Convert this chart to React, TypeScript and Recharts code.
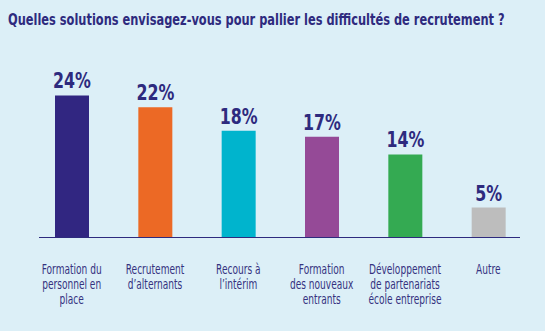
import { BarChart, Bar, XAxis, YAxis, Cell, LabelList } from "recharts";

document.body.style.margin = "0";

const CATEGORIES = [
  "Formation du personnel en place",
  "Recrutement d'alternants",
  "Recours à l'intérim",
  "Formation des nouveaux entrants",
  "Développement de partenariats école entreprise",
  "Autre",
];

const TICK_LINES: string[][] = [
  ["Formation du", "personnel en", "place"],
  ["Recrutement", "d’alternants"],
  ["Recours à", "l’intérim"],
  ["Formation", "des nouveaux", "entrants"],
  ["Développement", "de partenariats", "école entreprise"],
  ["Autre"],
];

const VALUES = [24, 22, 18, 17, 14, 5];

const COLORS = ["#312681", "#EC6925", "#00B4CD", "#954A97", "#34AA52", "#BDBDBD"];

const TITLE = "Quelles solutions envisagez-vous pour pallier les difficultés de recrutement ?";

const NAVY = "#2E2A7E";
const BG = "#DCEFF7";
const FONT = "'DejaVu Sans', sans-serif";

// the reference uses a narrow font; squeeze DejaVu horizontally instead
const measure = (text: string, font: string) => {
  const ctx = document.createElement("canvas").getContext("2d");
  if (!ctx) return text.length * 8;
  ctx.font = font;
  return ctx.measureText(text).width;
};

const TITLE_SCALE = 497 / measure(TITLE, "bold 15px 'DejaVu Sans'");

const data = CATEGORIES.map((name, i) => ({ name, value: VALUES[i], idx: i }));

const CategoryTick = ({ x, y, index }: any) => {
  const lines = TICK_LINES[index] || [];
  return (
    <g transform={`translate(${x},${y + 28.5}) scale(0.67,1)`}>
      <text x={0} y={0} textAnchor="middle" fill="#35327F" fontSize={13.5} fontFamily={FONT}>
        {lines.map((l, i) => (
          <tspan key={i} x={0} dy={i === 0 ? 0 : 15.5}>
            {l}
          </tspan>
        ))}
      </text>
    </g>
  );
};

const ValueLabel = ({ x, y, width, value }: any) => {
  const cx = x + width / 2;
  return (
    <g transform={`translate(${cx},${y - 7}) scale(0.72,1)`}>
      <text
        x={0}
        y={0}
        textAnchor="middle"
        fill={NAVY}
        fontSize={22}
        fontWeight={700}
        fontFamily={FONT}
      >
        {`${value}%`}
      </text>
    </g>
  );
};

export default function App() {
  return (
    <div
      style={{
        position: "relative",
        width: 545,
        height: 331,
        background: BG,
        overflow: "hidden",
      }}
    >
      <svg width={545} height={40} style={{ position: "absolute", left: 0, top: 0 }}>
        <g transform={`translate(8,25) scale(${TITLE_SCALE},1)`}>
          <text x={0} y={0} fill={NAVY} fontSize={15} fontWeight={700} fontFamily={FONT}>
            {TITLE}
          </text>
        </g>
      </svg>
      <BarChart
        width={545}
        height={331}
        data={data}
        margin={{ top: 89.5, right: 15, bottom: 34, left: 30 }}
      >
        <XAxis
          dataKey="name"
          axisLine={false}
          tickLine={false}
          height={60}
          interval={0}
          tick={<CategoryTick />}
        />
        <YAxis hide domain={[0, 25]} />
        <Bar dataKey="value" barSize={34} isAnimationActive={false}>
          {data.map((d) => (
            <Cell key={d.idx} fill={COLORS[d.idx]} />
          ))}
          <LabelList dataKey="value" content={<ValueLabel />} />
        </Bar>
      </BarChart>
      <div
        style={{
          position: "absolute",
          left: 39,
          top: 236.5,
          width: 481,
          height: 1.5,
          background: NAVY,
        }}
      />
    </div>
  );
}
